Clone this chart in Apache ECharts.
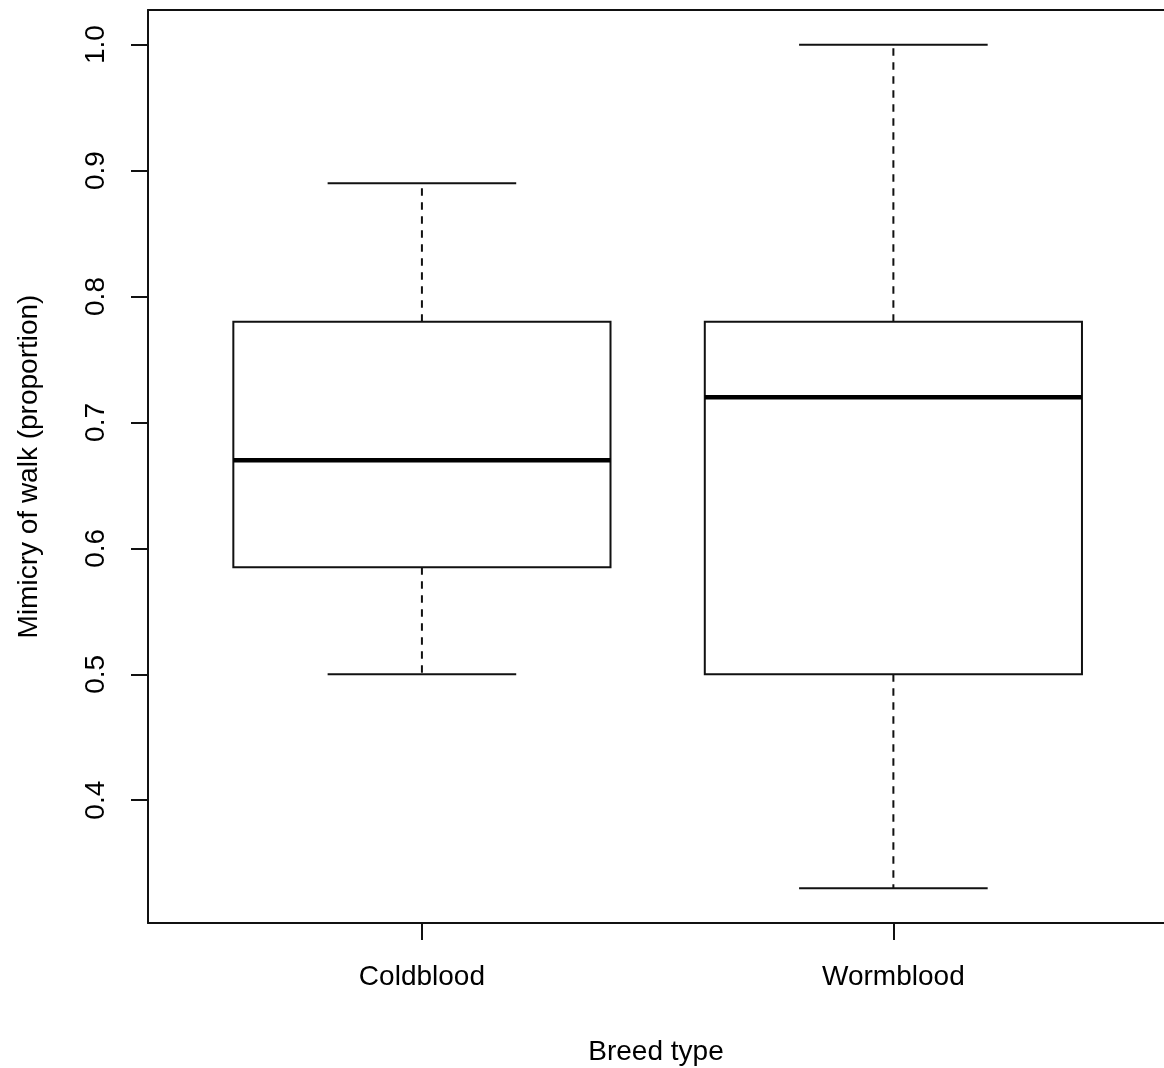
<!DOCTYPE html>
<html>
<head>
<meta charset="utf-8">
<script src="https://cdn.jsdelivr.net/npm/echarts@6/dist/echarts.min.js"></script>
<style>
  html, body { margin: 0; padding: 0; background: #fff; }
  #chart { width: 1164px; height: 1068px; }
</style>
</head>
<body>
<div id="chart"></div>
<script>
// breed types on the x axis
const categories = ['Coldblood', 'Wormblood'];
// five-number summaries
const lowerWhisker = [0.5, 0.33];
const lowerQuartile = [0.585, 0.5];
const medians = [0.67, 0.72];
const upperQuartile = [0.78, 0.78];
const upperWhisker = [0.89, 1.0];
// y tick labels
const yTicks = [0.4, 0.5, 0.6, 0.7, 0.8, 0.9, 1.0];

const boxData = categories.map(function (c, i) {
    return [i + 1, lowerWhisker[i], lowerQuartile[i], medians[i], upperQuartile[i], upperWhisker[i]];
});

const LINE = '#111';
const LW = 2;
const FONT = 'Liberation Sans';

function renderBox(params, api) {
    const x = api.value(0);
    const halfBox = 0.4, halfCap = 0.2;
    const pLowL = api.coord([x - halfCap, api.value(1)]);
    const pLowR = api.coord([x + halfCap, api.value(1)]);
    const pQ1L = api.coord([x - halfBox, api.value(2)]);
    const pQ3R = api.coord([x + halfBox, api.value(4)]);
    const pMedL = api.coord([x - halfBox, api.value(3)]);
    const pMedR = api.coord([x + halfBox, api.value(3)]);
    const pHiL = api.coord([x - halfCap, api.value(5)]);
    const pHiR = api.coord([x + halfCap, api.value(5)]);
    const cx = api.coord([x, 0])[0];
    const solid = { stroke: LINE, lineWidth: LW, fill: null };
    const dashed = { stroke: LINE, lineWidth: LW, lineDash: [7.5, 6.5] };
    return {
        type: 'group',
        children: [
            // whiskers (dashed)
            { type: 'line', shape: { x1: cx, y1: pQ3R[1], x2: cx, y2: pHiL[1] }, style: dashed },
            { type: 'line', shape: { x1: cx, y1: pQ1L[1], x2: cx, y2: pLowL[1] }, style: dashed },
            // staples
            { type: 'line', shape: { x1: pHiL[0], y1: pHiL[1], x2: pHiR[0], y2: pHiR[1] }, style: solid },
            { type: 'line', shape: { x1: pLowL[0], y1: pLowL[1], x2: pLowR[0], y2: pLowR[1] }, style: solid },
            // box
            {
                type: 'rect',
                shape: { x: pQ1L[0], y: pQ3R[1], width: pQ3R[0] - pQ1L[0], height: pQ1L[1] - pQ3R[1] },
                style: { stroke: LINE, lineWidth: LW, fill: '#fff' }
            },
            // median
            { type: 'line', shape: { x1: pMedL[0], y1: pMedL[1], x2: pMedR[0], y2: pMedR[1] }, style: { stroke: '#000', lineWidth: 4.5 } }
        ]
    };
}

const chart = echarts.init(document.getElementById('chart'));
chart.setOption({
    animation: false,
    backgroundColor: '#fff',
    grid: {
        left: 148, top: 10, right: 0, height: 913,
        outerBoundsMode: 'none',
        containLabel: false,
        show: false
    },
    xAxis: [{
        type: 'value',
        min: 0.419, max: 2.574,
        name: 'Breed type',
        nameLocation: 'middle',
        nameGap: 115,
        nameTextStyle: { fontFamily: FONT, fontSize: 28, color: '#000' },
        axisLine: { show: true, lineStyle: { color: LINE, width: LW } },
        axisTick: { show: true, customValues: [1, 2], length: 17, lineStyle: { color: LINE, width: LW } },
        axisLabel: {
            customValues: [1, 2],
            margin: 40,
            fontFamily: FONT, fontSize: 28, color: '#000',
            formatter: function (v) { return categories[Math.round(v) - 1]; }
        },
        splitLine: { show: false }
    }, {
        // top frame line only
        type: 'value',
        position: 'top',
        min: 0.419, max: 2.574,
        axisLine: { show: true, lineStyle: { color: LINE, width: LW } },
        axisTick: { show: false },
        axisLabel: { show: false },
        splitLine: { show: false }
    }],
    yAxis: {
        type: 'value',
        min: 0.3025, max: 1.0275,
        name: 'Mimicry of walk (proportion)',
        nameLocation: 'middle',
        nameGap: 105,
        nameRotate: 90,
        nameTextStyle: { fontFamily: FONT, fontSize: 28, color: '#000' },
        axisLine: { show: true, lineStyle: { color: LINE, width: LW } },
        axisTick: { show: true, customValues: yTicks, length: 17, lineStyle: { color: LINE, width: LW } },
        axisLabel: {
            customValues: yTicks,
            rotate: 90,
            margin: 38,
            fontFamily: FONT, fontSize: 28, color: '#000',
            formatter: function (v) { return v.toFixed(1); }
        },
        splitLine: { show: false }
    },
    series: [{
        type: 'custom',
        renderItem: renderBox,
        encode: { x: 0, y: [1, 2, 3, 4, 5] },
        data: boxData,
        clip: false
    }]
});
</script>
</body>
</html>
